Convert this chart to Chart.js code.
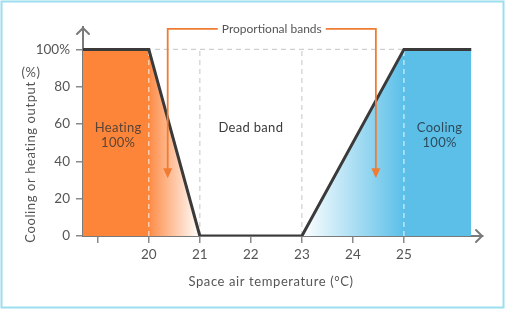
<!DOCTYPE html>
<html>
<head>
<meta charset="utf-8">
<script src="https://cdn.jsdelivr.net/npm/chart.js@4"></script>
<style>
html,body{margin:0;padding:0;background:#fff;}
#wrap{width:512px;height:312px;position:relative;}
</style>
</head>
<body>
<div id="wrap"><canvas id="c" width="512" height="312"></canvas></div>
<script>
// ---- data ----
const xTickValues = [19, 20, 21, 22, 23, 24, 25];
const xTickLabels = ['', '20', '21', '22', '23', '24', '25'];
const yTickValues = [0, 20, 40, 60, 80, 100];
const yTickLabels = ['0', '20', '40', '60', '80', '100%'];
const controlTemps  = [18.71, 20, 21, 23, 25, 26.32];
const controlOutput = [100, 100, 0, 0, 100, 100];
const heatTemps  = [18.71, 20, 21];
const heatOutput = [100, 100, 0];
const coolTemps  = [23, 25, 26.32];
const coolOutput = [0, 100, 100];
const guideTemps = [20, 21, 23, 25];
const bandLabels = [
  {lines: ['Heating', '100%'], x: 19.4, y: 58, color: '#5b4436'},
  {lines: ['Dead band'], x: 22.0, y: 58, color: '#3b3b3b'},
  {lines: ['Cooling', '100%'], x: 25.7, y: 58, color: '#2f4b5c'}
];
const bracket = {left: 20.37, right: 24.45, top: 111, tip: 31, text: 'Proportional bands'};

const ORANGE = '#fd8a3f';
const BLUE = '#5bbfe8';
const FONT = 'Lato, "Noto Sans", sans-serif';

const pts = (xs, ys) => xs.map((x, i) => ({x, y: ys[i]}));

const guideDatasets = [];
guideTemps.forEach(t => {
  const onFill = (t === 20 || t === 25);
  guideDatasets.push({
    data: [{x: t, y: 0}, {x: t, y: 100}],
    borderColor: onFill ? 'rgba(255,255,255,0.75)' : '#cfcfcf',
    borderWidth: 1.2, borderDash: [5, 4], pointRadius: 0, fill: false, order: 1
  });
});
guideDatasets.push({
  data: [{x: controlTemps[0], y: 100}, {x: 25, y: 100}],
  borderColor: '#cfcfcf', borderWidth: 1.2, borderDash: [5, 4], pointRadius: 0, fill: false, order: 1
});

function heatGrad(ctx) {
  const chart = ctx.chart; const area = chart.chartArea;
  if (!area) return ORANGE;
  const xs = chart.scales.x;
  const a = xs.getPixelForValue(20), b = xs.getPixelForValue(21);
  const g = chart.ctx.createLinearGradient(a, 0, b, 0);
  g.addColorStop(0, '#fc8539');
  g.addColorStop(0.05, '#fd9251');
  g.addColorStop(1, 'rgba(255,255,255,1)');
  return g;
}
function coolGrad(ctx) {
  const chart = ctx.chart; const area = chart.chartArea;
  if (!area) return BLUE;
  const xs = chart.scales.x;
  const a = xs.getPixelForValue(23), b = xs.getPixelForValue(25);
  const g = chart.ctx.createLinearGradient(a, 0, b, 0);
  g.addColorStop(0, 'rgba(255,255,255,1)');
  g.addColorStop(1, BLUE);
  return g;
}

const decor = {
  id: 'decor',
  beforeDraw(chart) {
    const c = chart.ctx;
    c.save();
    c.strokeStyle = '#9bdeee';
    c.lineWidth = 2;
    c.strokeRect(1.5, 1.5, 502, 306);
    c.restore();
  },
  afterDraw(chart) {
    const c = chart.ctx;
    const xs = chart.scales.x, ys = chart.scales.y;
    const area = chart.chartArea;
    c.save();
    // axis arrows
    c.strokeStyle = '#7a7a7a';
    c.lineWidth = 2;
    c.lineCap = 'round'; c.lineJoin = 'round';
    c.beginPath();
    c.moveTo(area.left - 6, area.top + 7);
    c.lineTo(area.left, area.top + 1);
    c.lineTo(area.left + 6, area.top + 7);
    c.stroke();
    c.beginPath();
    c.moveTo(area.right - 7, area.bottom - 6);
    c.lineTo(area.right - 1, area.bottom);
    c.lineTo(area.right - 7, area.bottom + 6);
    c.stroke();

    // band labels
    c.font = '13px ' + FONT;
    c.letterSpacing = '0.3px';
    c.textAlign = 'center'; c.textBaseline = 'middle';
    bandLabels.forEach(l => {
      c.fillStyle = l.color;
      const px = xs.getPixelForValue(l.x), py = ys.getPixelForValue(l.y);
      l.lines.forEach((s, i) => c.fillText(s, px, py + i * 15));
    });

    // bracket
    const lx = xs.getPixelForValue(bracket.left), rx = xs.getPixelForValue(bracket.right);
    const ty = ys.getPixelForValue(bracket.top), tip = ys.getPixelForValue(bracket.tip);
    c.font = '12px ' + FONT;
    c.letterSpacing = '0px';
    const tw = c.measureText(bracket.text).width;
    const cx = (lx + rx) / 2;
    c.strokeStyle = '#f07c34'; c.fillStyle = '#f07c34';
    c.lineWidth = 1.8; c.lineCap = 'butt'; c.lineJoin = 'miter';
    c.beginPath();
    c.moveTo(lx, tip - 8); c.lineTo(lx, ty); c.lineTo(cx - tw / 2 - 4, ty);
    c.moveTo(cx + tw / 2 + 4, ty); c.lineTo(rx, ty); c.lineTo(rx, tip - 8);
    c.stroke();
    [lx, rx].forEach(x => {
      c.beginPath();
      c.moveTo(x - 4.5, tip - 10); c.lineTo(x + 4.5, tip - 10); c.lineTo(x, tip); c.closePath();
      c.fill();
    });
    c.fillStyle = '#555';
    c.fillText(bracket.text, cx, ty);

    // axis titles
    c.font = '13px ' + FONT;
    c.letterSpacing = '0.6px';
    c.fillStyle = '#555';
    c.fillText('Space air temperature (°C)', 271, 282);
    c.fillText('(%)', 31, 73);
    c.translate(31, 162);
    c.rotate(-Math.PI / 2);
    c.fillText('Cooling or heating output', 0, 0);
    c.restore();
  }
};

new Chart(document.getElementById('c'), {
  type: 'line',
  data: {
    datasets: [
      {data: pts(controlTemps, controlOutput), borderColor: '#3a3a3a', borderWidth: 3,
       pointRadius: 0, fill: false, order: 0, borderJoinStyle: 'miter'},
      ...guideDatasets,
      {data: pts(heatTemps, heatOutput), borderWidth: 0, borderColor: 'rgba(0,0,0,0)',
       backgroundColor: heatGrad, fill: 'origin', pointRadius: 0, order: 2},
      {data: pts(coolTemps, coolOutput), borderWidth: 0, borderColor: 'rgba(0,0,0,0)',
       backgroundColor: coolGrad, fill: 'origin', pointRadius: 0, order: 2}
    ]
  },
  options: {
    responsive: false, animation: false,
    layout: {padding: {top: 27, right: 29, left: 0, bottom: 0}},
    plugins: {legend: {display: false}, tooltip: {enabled: false}},
    elements: {line: {tension: 0}},
    scales: {
      x: {
        type: 'linear', min: 18.71, max: 26.55,
        afterFit: s => { s.height = 76; },
        afterBuildTicks: s => { s.ticks = xTickValues.map(v => ({value: v})); },
        ticks: {
          callback: v => xTickLabels[xTickValues.indexOf(v)] ?? '',
          color: '#555', font: {family: FONT, size: 13.5}, padding: 4, maxRotation: 0, autoSkip: false
        },
        grid: {drawOnChartArea: false, drawTicks: true, tickLength: 7, color: '#8a8a8a', lineWidth: 1.5},
        border: {display: true, color: '#7a7a7a', width: 2}
      },
      y: {
        min: 0, max: 112,
        afterFit: s => { s.width = 83; },
        afterBuildTicks: s => { s.ticks = yTickValues.map(v => ({value: v})); },
        ticks: {
          callback: v => yTickLabels[yTickValues.indexOf(v)] ?? '',
          color: '#555', font: {family: FONT, size: 13.5}, padding: 6, autoSkip: false
        },
        grid: {drawOnChartArea: false, drawTicks: true, tickLength: 7, color: '#8a8a8a', lineWidth: 1.5},
        border: {display: true, color: '#7a7a7a', width: 2}
      }
    }
  },
  plugins: [decor]
});
</script>
</body>
</html>
